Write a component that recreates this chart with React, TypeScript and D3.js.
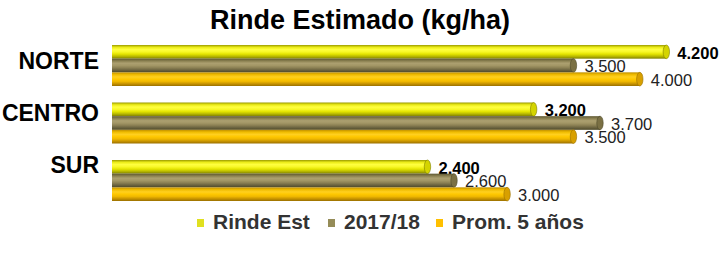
import React from "react";
import * as d3 from "d3";

const W = 726;
const H = 253;

const title = "Rinde Estimado (kg/ha)";
const categories = ["NORTE", "CENTRO", "SUR"];
const seriesNames = ["Rinde Est", "2017/18", "Prom. 5 años"];
const rindeEst = [4200, 3200, 2400];
const campania1718 = [3500, 3700, 2600];
const prom5 = [4000, 3500, 3000];
const seriesValues = [rindeEst, campania1718, prom5];

const grads = [
  { id: "gY", stops: ["#9a9a00", "#ecec18", "#ffff40", "#f8f828", "#e4e400", "#b8b800", "#808000"], cap: "#d4d400", legend: "#e0e020", bold: true },
  { id: "gB", stops: ["#5e5832", "#8a8050", "#aca070", "#a39766", "#8c8154", "#6c6440", "#4e4a2a"], cap: "#7a7044", legend: "#958c58", bold: false },
  { id: "gO", stops: ["#c09000", "#f0bc00", "#ffd020", "#ffc800", "#f0b800", "#c89400", "#9a7000"], cap: "#d8a000", legend: "#ffc000", bold: false },
];

const fmt = d3
  .formatLocale({ decimal: ",", thousands: ".", grouping: [3], currency: ["", ""] })
  .format(",d");

export default function App() {
  const x = d3.scaleLinear().domain([0, 4500]).range([112, 112 + 4500 * 0.1327]);
  const y0 = d3.scaleBand<string>().domain(categories).range([45, 201]).paddingInner(0.287).paddingOuter(0);
  const y1 = d3.scaleBand<number>().domain([0, 1, 2]).range([0, y0.bandwidth()]);
  const labelY = d3.scalePoint<string>().domain(categories).range([69, 173]);
  const bh = y1.bandwidth();

  const legendX = [197, 328, 436];

  return (
    <svg
      width={W}
      height={H}
      style={{ position: "absolute", left: 0, top: 0, background: "#fff" }}
      fontFamily="Arial, 'Liberation Sans', sans-serif"
    >
      <defs>
        {grads.map((g) => (
          <linearGradient key={g.id} id={g.id} x1="0" y1="0" x2="0" y2="1">
            {g.stops.map((c, i) => (
              <stop key={i} offset={i / (g.stops.length - 1)} stopColor={c} />
            ))}
          </linearGradient>
        ))}
      </defs>
      <text x={360} y={29} textAnchor="middle" fontSize={27} fontWeight="bold" fill="#000">
        {title}
      </text>
      {categories.map((c) => (
        <text key={c} x={99} y={labelY(c)} textAnchor="end" fontSize={23} fontWeight="bold" fill="#000">
          {c}
        </text>
      ))}
      {categories.map((c, ci) => (
        <g key={c} transform={`translate(0,${y0(c)})`}>
          {seriesValues.map((vals, si) => {
            const v = vals[ci];
            const by = y1(si)!;
            const xe = x(v);
            const g = grads[si];
            return (
              <g key={si}>
                <rect x={x(0)} y={by} width={xe - x(0) - 3} height={bh} fill={`url(#${g.id})`} />
                <ellipse cx={xe - 3} cy={by + bh / 2} rx={3.2} ry={bh / 2} fill={g.cap} stroke={g.stops[6]} strokeWidth={0.6} />
                <text
                  x={xe + 8}
                  y={by + bh}
                  fontSize={16.5}
                  fontWeight={g.bold ? "bold" : "normal"}
                  fill={g.bold ? "#000" : "#222"}
                >
                  {fmt(v)}
                </text>
              </g>
            );
          })}
        </g>
      ))}
      {seriesNames.map((n, i) => (
        <g key={n}>
          <rect x={legendX[i]} y={219} width={7} height={8} fill={grads[i].legend} />
          <text x={legendX[i] + 16} y={229} fontSize={21} fontWeight="bold" fill="#333">
            {n}
          </text>
        </g>
      ))}
    </svg>
  );
}
